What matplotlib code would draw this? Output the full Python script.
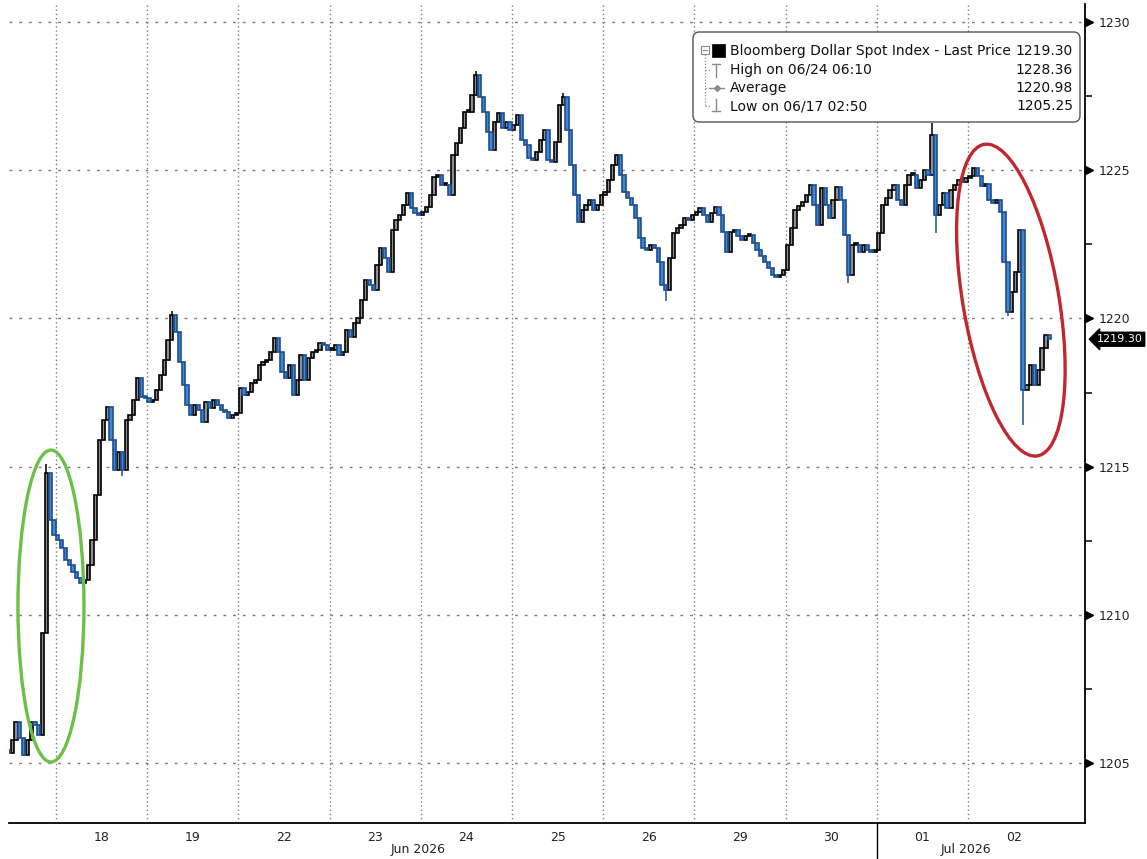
import numpy as np
import matplotlib
matplotlib.use("Agg")
import matplotlib.pyplot as plt
import matplotlib.transforms as mtransforms
from matplotlib.patches import Ellipse, FancyBboxPatch, Rectangle

# ---------------- data ----------------
days = ['17', '18', '19', '22', '23', '24', '25', '26', '29', '30', '01', '02']
bars_per_day = 24
first_bar_17 = 11  # the 17th is only partly shown

c17 = [1205.34, 1205.78, 1206.38, 1205.84, 1205.27, 1205.78, 1206.38, 1206.28, 1205.95,
       1209.40, 1214.80, 1213.20, 1212.70]
c18 = [1212.52, 1212.25, 1211.85, 1211.68, 1211.44, 1211.24, 1211.07, 1211.17, 1211.68, 1212.52,
       1214.04, 1215.90, 1216.57, 1217.01, 1215.90, 1214.89, 1215.49, 1214.89, 1216.57, 1216.74,
       1217.25, 1217.99, 1217.35, 1217.31]
c19 = [1217.18, 1217.25, 1217.58, 1218.09, 1218.60, 1219.27, 1220.11, 1219.54, 1218.53, 1217.75,
       1217.08, 1216.74, 1217.08, 1216.91, 1216.50, 1217.18, 1216.98, 1217.25, 1217.08, 1216.91,
       1216.84, 1216.64, 1216.74, 1216.80]
c22 = [1217.65, 1217.42, 1217.52, 1217.82, 1217.92, 1218.43, 1218.53, 1218.60, 1218.87, 1219.34,
       1218.87, 1218.19, 1217.99, 1218.43, 1217.42, 1217.92, 1218.77, 1217.92, 1218.67, 1218.87,
       1218.93, 1219.17, 1219.10, 1218.93]
c23 = [1218.93, 1219.10, 1218.77, 1218.87, 1219.61, 1219.38, 1219.84, 1220.01, 1220.62, 1221.30,
       1221.13, 1220.96, 1221.80, 1222.38, 1222.04, 1221.57, 1222.98, 1223.32, 1223.49, 1223.83,
       1224.23, 1223.73, 1223.56, 1223.49]
c24 = [1223.59, 1223.76, 1224.16, 1224.77, 1224.84, 1224.50, 1224.50, 1224.16, 1225.51, 1225.92,
       1226.42, 1226.96, 1226.96, 1227.54, 1228.21, 1227.47, 1226.96, 1226.29, 1225.68, 1226.63,
       1226.93, 1226.42, 1226.63, 1226.36]
c25 = [1226.52, 1226.86, 1226.02, 1225.85, 1225.41, 1225.34, 1225.61, 1226.02, 1226.36, 1225.34,
       1225.28, 1225.95, 1227.20, 1227.47, 1226.36, 1225.18, 1224.16, 1223.25, 1223.66, 1223.83,
       1223.99, 1223.66, 1223.83, 1224.16]
c26 = [1224.26, 1224.67, 1225.17, 1225.51, 1224.84, 1224.26, 1224.06, 1223.83, 1223.39, 1222.71,
       1222.38, 1222.31, 1222.48, 1222.38, 1221.90, 1221.13, 1220.96, 1222.04, 1222.88, 1223.05,
       1223.15, 1223.39, 1223.32, 1223.49]
c29 = [1223.59, 1223.73, 1223.49, 1223.25, 1223.56, 1223.76, 1223.49, 1222.92, 1222.24, 1222.92,
       1222.98, 1222.78, 1222.65, 1222.78, 1222.81, 1222.54, 1222.31, 1222.11, 1221.90, 1221.70,
       1221.46, 1221.40, 1221.46, 1221.63]
c30 = [1222.48, 1223.05, 1223.66, 1223.79, 1223.93, 1224.16, 1224.50, 1223.83, 1223.15, 1224.40,
       1223.83, 1223.39, 1223.99, 1224.43, 1223.99, 1222.81, 1221.46, 1222.48, 1222.48, 1222.24,
       1222.48, 1222.31, 1222.24, 1222.31]
c01 = [1222.88, 1223.83, 1224.06, 1224.33, 1224.50, 1223.99, 1223.83, 1224.50, 1224.84, 1224.84,
       1224.40, 1224.67, 1225.01, 1224.84, 1226.19, 1223.49, 1223.83, 1224.23, 1223.73, 1224.33,
       1224.50, 1224.67, 1224.60, 1224.74]
c02 = [1224.80, 1225.07, 1224.80, 1224.47, 1224.53, 1223.99, 1223.89, 1223.99, 1223.59, 1221.90,
       1220.22, 1220.89, 1221.57, 1222.98, 1217.58, 1217.75, 1218.43, 1217.75, 1218.26, 1219.00,
       1219.44, 1219.30]
closes_by_day = [c17, c18, c19, c22, c23, c24, c25, c26, c29, c30, c01, c02]
first_open = 1205.45

wick_high = {('17', 21): 1215.10, ('19', 6): 1220.25, ('24', 14): 1228.36,
             ('25', 13): 1227.60, ('01', 14): 1226.60}
wick_low = {('17', 15): 1205.25, ('17', 20): 1206.90, ('18', 17): 1214.70, ('26', 16): 1220.60,
            ('30', 16): 1221.20, ('01', 15): 1222.90, ('02', 10): 1220.10, ('02', 14): 1216.40}

y_major = [1205, 1210, 1215, 1220, 1225, 1230]
y_minor = [1207.5, 1212.5, 1217.5, 1222.5, 1227.5]
last_price = 1219.30
legend_rows = [('Bloomberg Dollar Spot Index - Last Price', '1219.30'),
               ('High on 06/24 06:10', '1228.36'),
               ('Average', '1220.98'),
               ('Low on 06/17 02:50', '1205.25')]
month_labels = [('Jun 2026', 3.97), ('Jul 2026', 9.98)]
month_boundary = 9

# ---------------- build bars ----------------
xs, opens, closes, highs, lows = [], [], [], [], []
prev = first_open
for k, (lab, cl) in enumerate(zip(days, closes_by_day)):
    start = first_bar_17 if k == 0 else 0
    for j, c in enumerate(cl):
        i = start + j
        xs.append((k - 1) + (i + 0.5) / bars_per_day)
        o = prev
        opens.append(o)
        closes.append(c)
        highs.append(max(o, c, wick_high.get((lab, i), -1e9)))
        lows.append(min(o, c, wick_low.get((lab, i), 1e9)))
        prev = c
xs = np.array(xs); opens = np.array(opens); closes = np.array(closes)
highs = np.array(highs); lows = np.array(lows)

# ---------------- figure ----------------
W, H = 1147, 859
fig = plt.figure(figsize=(W / 100, H / 100), dpi=100)
ax_l, ax_r, ax_t, ax_b = 9, 1085, 4, 823
ax = fig.add_axes([ax_l / W, (H - ax_b) / H, (ax_r - ax_l) / W, (ax_b - ax_t) / H])
ax.set_xlim(-0.515, 11.283)
ax.set_ylim(1202.98, 1230.61)

for s in ['left', 'top']:
    ax.spines[s].set_visible(False)
for s in ['right', 'bottom']:
    ax.spines[s].set_color('black')
    ax.spines[s].set_linewidth(1.3)

# grid
for y in y_major:
    ax.axhline(y, color='#7a7a7a', lw=1.0, ls=(0, (2, 5)), zorder=0)
for d in range(0, 11):
    ax.axvline(d, color='#7a7a7a', lw=1.0, ls=(0, (1, 2)), zorder=0)

# candles
bw = 0.85 / bars_per_day
up = closes >= opens
dn = ~up
ax.vlines(xs[up], lows[up], highs[up], color='black', lw=1.1, zorder=2)
ax.vlines(xs[dn], lows[dn], highs[dn], color='#1f4e8f', lw=1.1, zorder=2)
body_h = np.maximum(np.abs(closes - opens), 0.06)
body_b = np.minimum(opens, closes)
ax.bar(xs[up], body_h[up], bottom=body_b[up], width=bw, color='#8e8e8e',
       edgecolor='black', linewidth=1.2, zorder=3)
ax.bar(xs[dn], body_h[dn], bottom=body_b[dn], width=bw, color='#3f86d6',
       edgecolor='#1f4e8f', linewidth=1.2, zorder=3)

# y axis on the right
ax.yaxis.tick_right()
ax.set_yticks(y_major)
ax.set_yticklabels([str(v) for v in y_major])
ax.set_yticks(y_minor, minor=True)
ax.tick_params(axis='y', which='major', length=0, pad=10, labelsize=9, labelcolor='#222222')
ax.tick_params(axis='y', which='minor', length=5, width=1.1, color='black', direction='out')
tri_tr = mtransforms.blended_transform_factory(ax.transAxes, ax.transData) + \
    mtransforms.ScaledTranslation(4 / 100, 0, fig.dpi_scale_trans)
ax.plot([1.0] * len(y_major), y_major, ls='none', marker='>', ms=5.5, color='black',
        transform=tri_tr, clip_on=False, zorder=5)

# x axis
ax.set_xticks([d + 0.5 for d in range(11)])
ax.set_xticklabels(days[1:])
ax.tick_params(axis='x', length=0, pad=6, labelsize=9, labelcolor='#222222')
bt = mtransforms.blended_transform_factory(ax.transData, ax.transAxes)
for lab, xp in month_labels:
    ax.text(xp, -27 / 819, lab, transform=bt, ha='center', va='center', fontsize=9, color='#222222')
ax.plot([month_boundary, month_boundary], [0, -40 / 819], transform=bt, color='black', lw=1.0,
        clip_on=False)

# last price tag
ax.annotate(f'{last_price:.2f}', xy=(1.0, last_price),
            xycoords=mtransforms.blended_transform_factory(ax.transAxes, ax.transData),
            xytext=(8.5, 0), textcoords='offset points', ha='left', va='center',
            fontsize=8, color='white', annotation_clip=False,
            bbox=dict(boxstyle='larrow,pad=0.18', fc='black', ec='black'))

# ---------------- legend box ----------------
def P(px, py):
    return ((px - ax_l) / (ax_r - ax_l), (ax_b - py) / (ax_b - ax_t))

aw, ah = ax_r - ax_l, ax_b - ax_t
x0, y0 = P(693, 122)
x1, y1 = P(1080, 32)
box = FancyBboxPatch((x0, y0), x1 - x0, y1 - y0, transform=ax.transAxes,
                     boxstyle='round,pad=0,rounding_size=0.006', mutation_aspect=aw / ah,
                     fc='white', ec='#555555', lw=1.0, zorder=10)
ax.add_patch(box)
row_y = [51, 70, 88, 106]
for (txt, val), py in zip(legend_rows, row_y):
    tx, ty = P(730, py)
    ax.text(tx, ty, txt, transform=ax.transAxes, ha='left', va='center', fontsize=10,
            color='#111111', zorder=11)
    vx, _ = P(1073, py)
    ax.text(vx, ty, val, transform=ax.transAxes, ha='right', va='center', fontsize=10,
            color='#111111', zorder=11)
# icons
gx = '#8a8a8a'
def seg(p, q, **kw):
    a, b = P(*p), P(*q)
    ax.plot([a[0], b[0]], [a[1], b[1]], transform=ax.transAxes, zorder=11, clip_on=False, **kw)
seg((705, 54), (705, 106), color=gx, lw=0.9, ls=(0, (1, 1.5)))
for py in row_y[1:]:
    seg((705, py), (710, py), color=gx, lw=0.9, ls=(0, (1, 1.5)))
bx, by = P(701, 54)
ax.add_patch(Rectangle((bx, by), 8 / aw, 8 / ah, transform=ax.transAxes, fc='white', ec=gx,
                       lw=0.8, zorder=11))
seg((703, 50), (707, 50), color=gx, lw=0.8)
sx, sy = P(712, 57)
ax.add_patch(Rectangle((sx, sy), 13 / aw, 13 / ah, transform=ax.transAxes, fc='black', ec='black',
                       lw=0.5, zorder=11))
seg((716, 64), (716, 77), color=gx, lw=1.0)
seg((712, 64), (720, 64), color=gx, lw=1.0)
seg((710, 88), (724, 88), color=gx, lw=1.0)
mx, my = P(717, 88)
ax.plot([mx], [my], marker='D', ms=3, color=gx, transform=ax.transAxes, zorder=12)
seg((716, 99), (716, 111), color=gx, lw=1.0)
seg((712, 111), (720, 111), color=gx, lw=1.0)

# ---------------- highlight ellipses ----------------
fig.canvas.draw()
def ell(center_x, center_y, w_px, h_px, ang, col):
    cx, cy = ax.transData.transform((center_x, center_y))
    e = Ellipse((cx, cy), w_px, h_px, angle=ang, transform=None, fill=False, ec=col, lw=2.4,
                zorder=20)
    fig.add_artist(e)

ell(-0.055, 1210.30, 66, 312, 0, '#6cc04a')
ell(10.47, 1220.62, 96, 316, 9.7, '#c0282d')

fig.savefig('out.png', dpi=100)
